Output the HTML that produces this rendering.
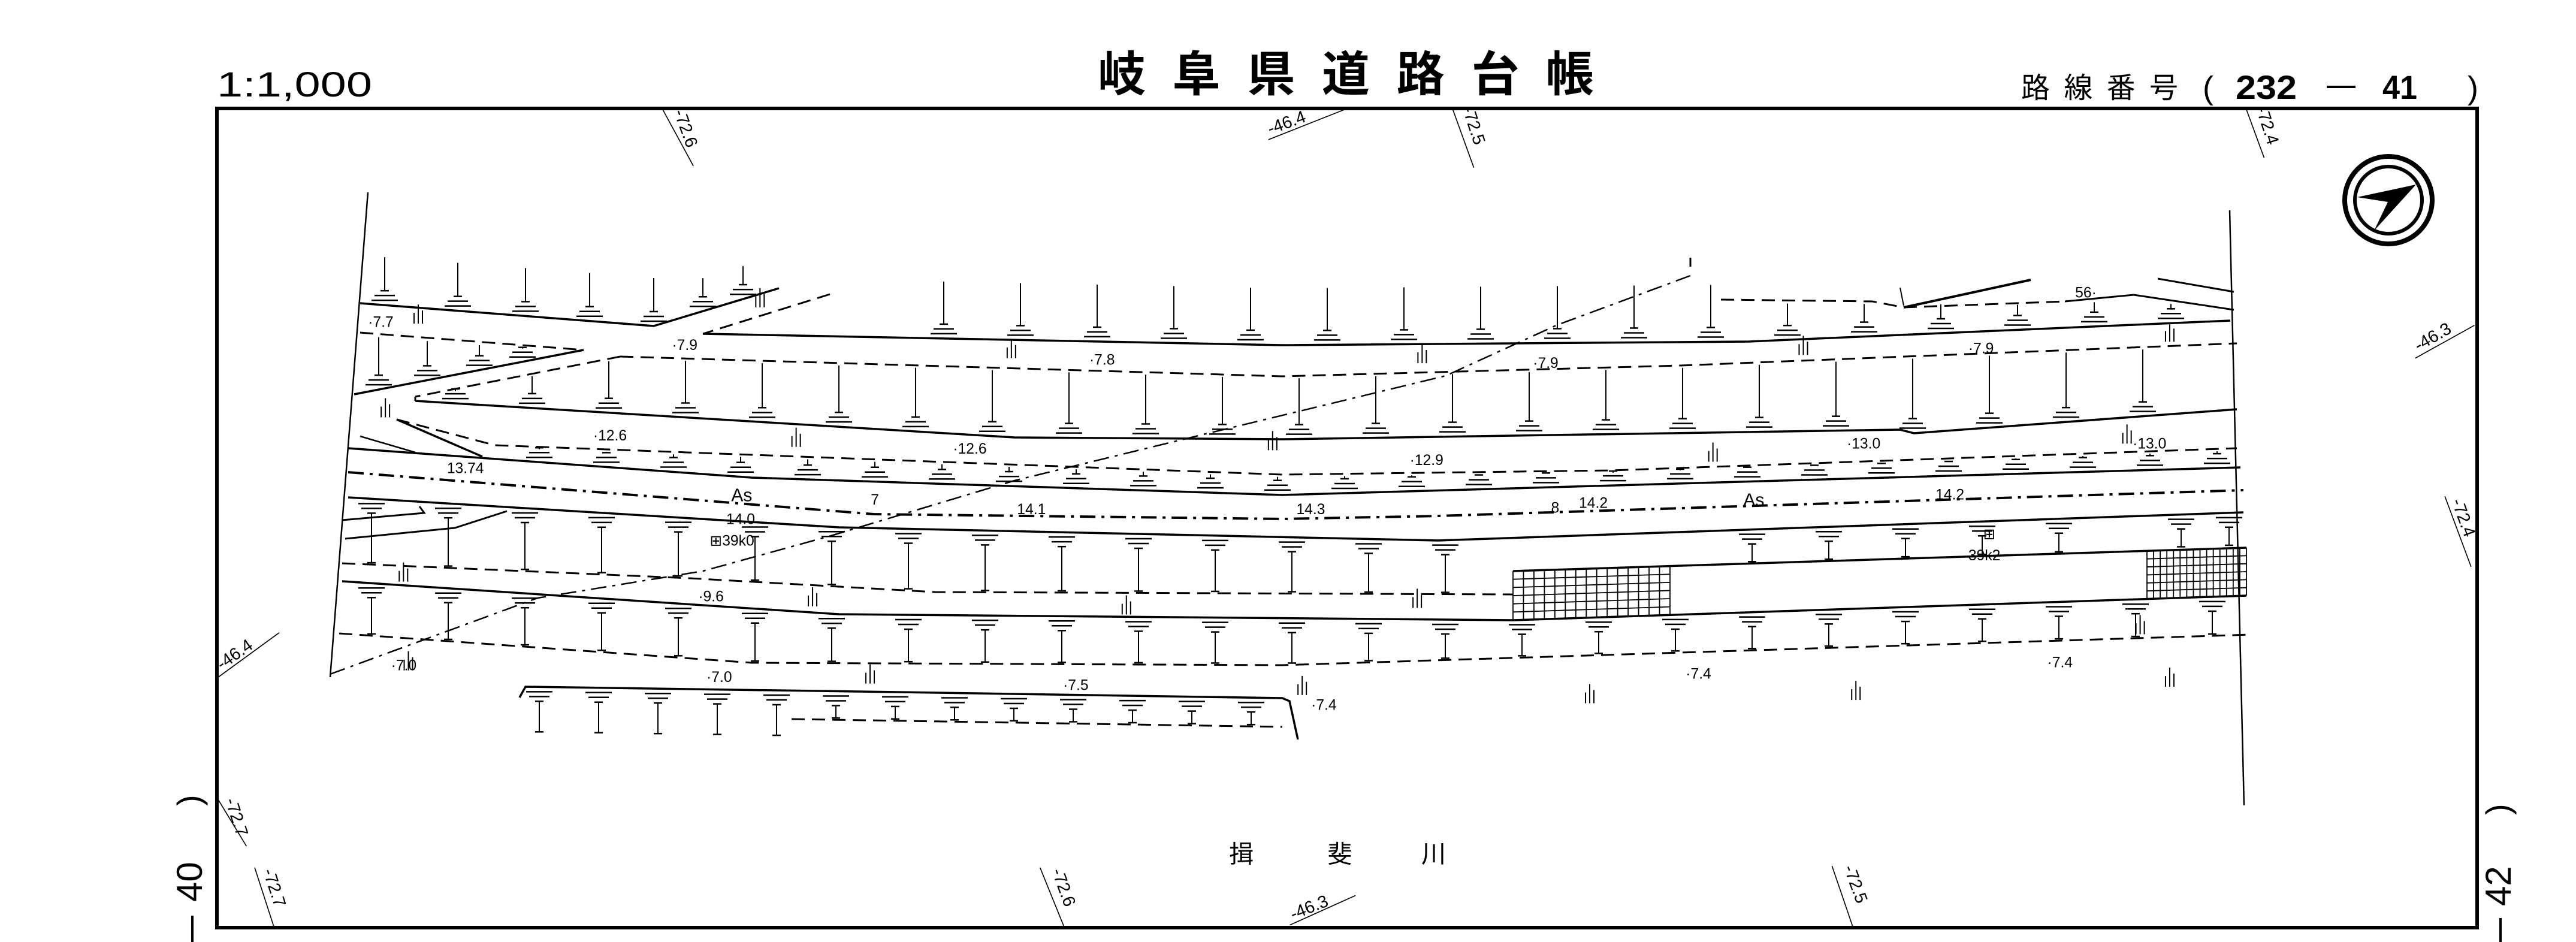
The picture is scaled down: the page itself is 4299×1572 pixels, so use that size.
<!DOCTYPE html>
<html><head><meta charset="utf-8"><style>
html,body{margin:0;padding:0;background:#fff}
svg{display:block}
text{font-family:"Liberation Sans","Noto Sans CJK JP",sans-serif;fill:#000}
</style></head><body>
<svg id="s" xmlns="http://www.w3.org/2000/svg" width="4299" height="1572" viewBox="0 0 4299 1572">
<rect width="4299" height="1572" fill="#fff"/>
<text x="362" y="161" font-size="58" textLength="259" lengthAdjust="spacingAndGlyphs">1:1,000</text>
<text x="1832" y="152" font-size="80" font-weight="bold" textLength="828" lengthAdjust="spacing" font-family="'Noto Sans CJK JP',sans-serif">岐阜県道路台帳</text>
<text x="3373" y="163" font-size="48" textLength="262" lengthAdjust="spacing" font-family="'Noto Sans CJK JP',sans-serif">路線番号</text>
<text x="3676" y="165" font-size="54">(</text>
<text x="3731" y="165" font-size="56" font-weight="bold" textLength="102" lengthAdjust="spacingAndGlyphs">232</text>
<line x1="3883" y1="145" x2="3931" y2="145" stroke="#000" stroke-width="4"/>
<text x="3976" y="165" font-size="56" font-weight="bold" textLength="58" lengthAdjust="spacingAndGlyphs">41</text>
<text x="4118" y="165" font-size="54">)</text>
<rect x="362" y="181" width="3772" height="1367" fill="none" stroke="#000" stroke-width="6"/>
<text transform="translate(335,1345) rotate(-90)" font-size="56">)</text>
<text transform="translate(337,1505) rotate(-90)" font-size="60">40</text>
<line x1="321" y1="1528" x2="321" y2="1572" stroke="#000" stroke-width="4"/>
<text transform="translate(4188,1360) rotate(-90)" font-size="56">)</text>
<text transform="translate(4190,1512) rotate(-90)" font-size="60">42</text>
<line x1="4173" y1="1532" x2="4173" y2="1572" stroke="#000" stroke-width="4"/>
<circle cx="3986" cy="334" r="73" fill="none" stroke="#000" stroke-width="8"/>
<circle cx="3986" cy="334" r="56" fill="none" stroke="#000" stroke-width="6"/>
<polygon points="3934,329 4032,308 3962,385 3985,337" fill="#000"/>
<g id="g" fill="none" stroke="#000" stroke-linecap="butt"></g>
<g id="lab" transform="scale(2.742)" font-size="9"></g>
</svg>
<script>
var g=document.getElementById('g'),lab=document.getElementById('lab');
var out='';
function pl(p,w,d){out+='<polyline points="'+p.map(function(a){return a.join(',')}).join(' ')+'" stroke-width="'+(w||3)+'"'+(d?' stroke-dasharray="'+d+'"':'')+'/>';}
function ln(x1,y1,x2,y2,w){out+='<line x1="'+x1+'" y1="'+y1+'" x2="'+x2+'" y2="'+y2+'" stroke-width="'+(w||2)+'"/>';}
function yAt(p,x){for(var i=0;i<p.length-1;i++){if(x<=p[i+1][0]||i==p.length-2){var a=p[i],b=p[i+1];return a[1]+(b[1]-a[1])*(x-a[0])/(b[0]-a[0]);}}}
var DS='22 12',DD='26 10 5 10';
var Amain=[[1173,557],[2140,576],[2918,570],[3722,535]];
var Dd=[[1035,595],[2140,628],[2804,610],[3733,573]];
var Ds=[[693,669],[1693,730],[2140,733],[3171,717],[3194,723],[3733,683]];
var Ed=[[662,700],[826,743],[2140,792],[2689,785],[3733,748]];
var Es=[[581,748],[1254,797],[2140,826],[3739,780]];
var F=[[581,788],[1458,858],[2140,866],[2400,861],[3744,818]];
var G=[[581,830],[1400,880],[2400,902],[3744,855]];
var Id=[[571,940],[1152,965],[1560,988],[2525,992]];
var gT=[[2525,953],[3749,914]], gB=[[2525,1035],[3749,994]];
var J=[[571,970],[1400,1025],[2525,1035]];
var K=[[566,1057],[1254,1106],[2140,1110],[3757,1059]];
var Lp=[[867,1164],[877,1146],[1500,1155],[2140,1165],[2152,1170],[2166,1234]];
var M=[[1321,1200],[2140,1213]];
pl([[614,321],[551,1130]],2.5);
pl([[3721,351],[3745,1344]],2.5);
pl([[601,506],[1091,544],[1300,481]],3.5);
pl([[601,555],[974,584]],3,DS);
pl([[974,584],[591,658]],3.5);
pl([[1385,491],[1173,557]],3,DS);
pl(Amain,3.5);
pl([[2872,500],[3125,503],[3177,513],[3446,503]],3,DS);
pl([[3446,503],[3561,492],[3728,517]],3);
pl([[3177,513],[3389,467]],4);
pl([[3601,465],[3728,487]],3);
pl([[3171,480],[3177,510]],2);
pl(Dd,3,DS);pl([[1035,595],[693,662]],3,DS);pl([[693,662],[693,669]],3);
pl(Ds,3.5);
pl([[662,700],[805,762]],3.5);pl([[601,728],[693,755]],2.5);
pl(Ed,3,DS);pl(Es,3.5);
pl(F,4,DD);
pl(G,3.5);
pl([[571,868],[708,856],[700,845]],3);
pl([[576,899],[759,881],[846,853]],3);
pl(Id,3,DS);
pl(gT,3.5);pl(gB,3.5);
pl(J,3.5);pl(K,3,DS);
pl(Lp,3.5);pl(M,3,DS);
pl([[551,1125],[897,998],[1173,953],[1387,894],[1693,802],[2000,727],[2413,627],[2597,543],[2821,460]],2.5,DD);
ln(2821,430,2821,445,3);
function grid(x1,x2,tp,bt){for(var x=x1;x<=x2+0.1;x+=(x2-x1)/15){ln(x,yAt(tp,x),x,yAt(bt,x),1.8);}
 for(var k=0;k<=6;k++){var f=k/6;ln(x1,yAt(tp,x1)*(1-f)+yAt(bt,x1)*f,x2,yAt(tp,x2)*(1-f)+yAt(bt,x2)*f,1.8);}}
grid(2525,2787,gT,gB);grid(3583,3749,gT,gB);
function down(x,t,b){ln(x,t,x,b-24,2);ln(x-7,b-24,x+7,b-24,2.5);ln(x-17,b-16,x+17,b-16,2.5);ln(x-22,b-8,x+22,b-8,2.5);}
function up(x,t,b){ln(x-22,t+8,x+22,t+8,2.5);ln(x-17,t+16,x+17,t+16,2.5);ln(x-7,t+24,x+7,t+24,2.5);ln(x,t+24,x,b-3,2);ln(x-7,b-3,x+7,b-3,2.5);}
var x,b,tt;
[642,764,877,984,1091].forEach(function(x){var b=yAt([[601,506],[1091,544]],x);down(x,b-80,b);});
[1173,1240].forEach(function(x){var b=yAt([[1091,544],[1300,481]],x);down(x,b-55,b);});
for(x=1575;x<=3660;x+=128){b=yAt(Amain,x);tt=x<2870?b-95:yAt([[2872,500],[3446,503],[3561,492],[3728,517]],x)+6;down(x,tt,b);}
[632,713,800,872].forEach(function(x){var b=658-(x-591)*74/383;down(x,560+(x-600)*0.08,b);});
for(x=760;x<=3700;x+=128){tt=x<1035?yAt([[1035,595],[693,662]],x):yAt(Dd,x);down(x,tt+4,yAt(Ds,x));}
for(x=900;x<=3700;x+=112){down(x,yAt(Ed,x)+4,yAt(Es,x));}
for(x=620;x<=3700;x+=128){if(x>2505&&x<2810)continue;if(x>3560)continue;b=x<2525?yAt(Id,x):yAt(gT,x);up(x,yAt(G,x),b);}
[3640,3720].forEach(function(x){up(x,yAt(G,x),yAt(gT,x)-2);});
for(x=620;x<=3720;x+=128){tt=x<2525?yAt(J,x):yAt(gB,x);up(x,tt,yAt(K,x));}
for(x=900;x<=2130;x+=99){tt=yAt(Lp,x);up(x,tt,x>1321?yAt(M,x):tt+78);}
function grass(x,y){ln(x,y,x,y-18,2);ln(x+7,y,x+7,y-32,2);ln(x+14,y,x+14,y-22,2);}
[[252,197],[460,187],[613,218],[863,221],[1095,216],[1318,208],[232,254],[482,272],[772,274],[1040,281],[1292,270],[243,354],[492,369],[683,374],[860,370],[1300,386],[246,408],[527,416],[790,423],[965,428],[1127,426],[1318,418]].forEach(function(p){grass(p[0]*2.742,p[1]*2.742);});
g.innerHTML=out;
var L2='';
function txt(s,x,y,fs,extra){L2+='<text x="'+x+'" y="'+y+'"'+(fs?' font-size="'+fs+'"':'')+(extra||'')+'>'+s+'</text>';}
[['·7.7',224,199],['·7.9',409,213],['·7.8',663,222],['·7.9',933,224],['·7.9',1198,215],['56·',1263,181],['·12.6',361,268],['·12.6',580,276],['·12.9',858,283],['·13.0',1124,273],['·13.0',1298,273],['13.74',272,288],['7',530,307],['14.1',619,313],['14.3',789,313],['8',944,312],['14.2',961,309],['14.2',1178,304],['14.0',442,319],['⊞39k0',432,332],['⊞',1207,328],['39k2',1198,341],['·9.6',425,366],['·7.0',238,408],['·7.0',430,415],['·7.5',647,420],['·7.4',798,432],['·7.4',1026,413],['·7.4',1246,406]].forEach(function(a){txt(a[0],a[1],a[2],9);});
txt('As',445,305,11);txt('As',1061,308,11);
txt('揖',748,525,15);txt('斐',808,525,15);txt('川',865,525,15);
function tl(s,x1,y1,x2,y2,tx,ty,r){L2+='<line x1="'+x1+'" y1="'+y1+'" x2="'+x2+'" y2="'+y2+'" stroke="#000" stroke-width="0.6"/>';L2+='<text transform="translate('+tx+','+ty+') rotate('+r+')" font-size="10.5">'+s+'</text>';}
tl('-72.6',403,66,422,101,410,68,70);
tl('-46.4',772,85,820,66,773,82,-20);
tl('-72.5',884,66,897,102,890,66,72);
tl('-72.4',1367,66,1378,96,1373,66,72);
tl('-46.3',1470,218,1506,198,1472,214,-30);
tl('-72.4',1488,302,1504,345,1492,305,70);
tl('-46.4',133,412,170,385,135,408,-35);
tl('-72.7',133,487,150,515,137,487,72);
tl('-72.7',155,528,167,565,160,530,72);
tl('-72.6',633,528,648,565,640,530,70);
tl('-46.3',785,563,825,545,787,560,-22);
tl('-72.5',1115,527,1128,565,1122,528,70);
lab.innerHTML=L2;
</script>
</body></html>
